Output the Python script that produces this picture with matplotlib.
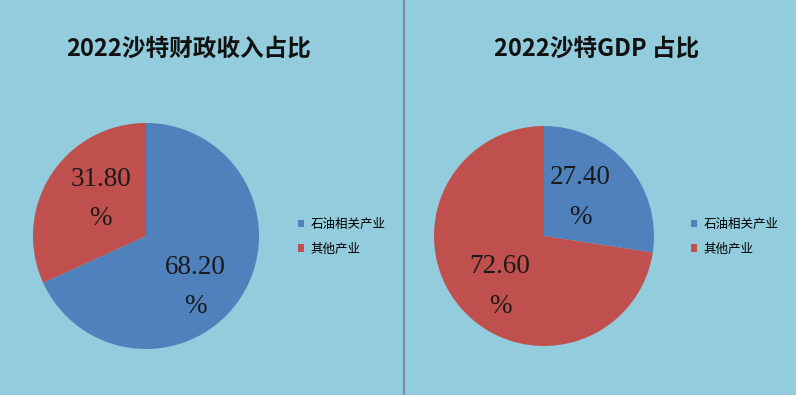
import matplotlib
matplotlib.use("Agg")
import matplotlib.pyplot as plt
from matplotlib.lines import Line2D

# ---- data ----
categories = ["石油相关产业", "其他产业"]
revenue_share = [68.20, 31.80]
gdp_share = [27.40, 72.60]
titles = ["2022沙特财政收入占比", "2022沙特GDP 占比"]

# ---- style ----
W, H = 796, 395
BG = "#93CDDD"
colors = ["#4F81BD", "#C0504D"]
cjk = ["Noto Sans CJK SC", "DejaVu Sans"]

fig = plt.figure(figsize=(W / 100, H / 100), dpi=100, facecolor=BG)


def px_axes(cx, cy, r):
    return fig.add_axes([(cx - r) / W, (H - cy - r) / H, 2 * r / W, 2 * r / H])


panels = [
    dict(values=revenue_share, title=titles[0], cx=146, cy=236, r=113,
         tx=189, ty=49, lx=298, label_pos=[(0.44, -0.45), (-0.40, 0.33)]),
    dict(values=gdp_share, title=titles[1], cx=544, cy=236, r=110,
         tx=597, ty=49, lx=691, label_pos=[(0.33, 0.35), (-0.40, -0.46)]),
]

for p in panels:
    ax = px_axes(p["cx"], p["cy"], p["r"])
    wedges, _ = ax.pie(p["values"], colors=colors, startangle=90,
                       counterclock=False, radius=1,
                       wedgeprops=dict(linewidth=0))
    ax.set_xlim(-1, 1)
    ax.set_ylim(-1, 1)
    ax.set_aspect("equal")
    ax.axis("off")
    for v, (dx, dy) in zip(p["values"], p["label_pos"]):
        ax.text(dx, dy, f"{v:.2f}\n%", ha="center", va="center",
                fontsize=19.5, family=["Liberation Serif", "DejaVu Serif"],
                color="#1a1a1a", linespacing=1.75)
    fig.text(p["tx"] / W, 1 - p["ty"] / H, p["title"], ha="center",
             va="center", fontsize=17, fontweight="bold", family=cjk,
             color="#111111")
    fig.legend(wedges, categories, loc="center left",
               bbox_to_anchor=(p["lx"] / W, 1 - 236.5 / H),
               frameon=False, prop=dict(family=cjk, size=9),
               handlelength=0.5, handleheight=0.5, handletextpad=0.5,
               labelspacing=0.95, borderpad=0, borderaxespad=0)

fig.add_artist(Line2D([404 / W, 404 / W], [0, 1], color="#7C8F9C",
                      linewidth=1.6, transform=fig.transFigure))

fig.savefig("out.png", dpi=100, facecolor=BG)
